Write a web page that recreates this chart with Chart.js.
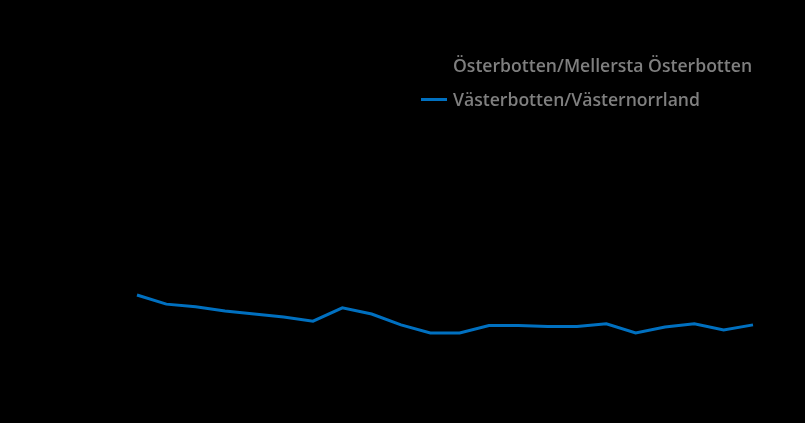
<!DOCTYPE html>
<html>
<head>
<meta charset="utf-8">
<script src="https://cdn.jsdelivr.net/npm/chart.js@4"></script>
<style>
  html, body { margin: 0; padding: 0; background: #000; }
  #wrap { position: relative; width: 805px; height: 423px; background: #000; }
  #legend { position: absolute; left: 421px; top: 48px; font-family: "Open Sans", sans-serif; font-weight: 600; font-size: 17.6px; color: #7f7f7f; }
  #legend div { display: flex; align-items: center; height: 34px; }
  #legend span.mark { display: inline-block; width: 26px; height: 3px; margin-right: 6px; }
</style>
</head>
<body>
<div id="wrap">
  <canvas id="chart"></canvas>
  <div id="legend"></div>
</div>
<script>
// years on the (black, unseen) category axis
const years = ['2000', '2001', '2002', '2003', '2004', '2005', '2006', '2007', '2008', '2009', '2010',
	'2011', '2012', '2013', '2014', '2015', '2016', '2017', '2018', '2019', '2020', '2021'];

// drawn in black on black, values cannot be read
const osterbotten = [];

const vasterbotten = [20.6, 17.9, 17.1, 15.9, 15.0, 14.1, 12.9, 16.8, 15.0, 11.8, 9.4,
	9.4, 11.6, 11.6, 11.3, 11.3, 12.1, 9.4, 11.2, 12.1, 10.3, 11.8];

const yTicks = [0, 20, 40, 60, 80, 100];

let element = document.getElementById('chart');

let chart = new Chart(element, {
	type: 'line',
	data: {
		labels: years,
		datasets: [
			{
				label: 'Österbotten/Mellersta Österbotten',
				data: osterbotten,
				borderColor: '#000000',
				borderWidth: 3,
				pointRadius: 0,
			},
			{
				label: 'Västerbotten/Västernorrland',
				data: vasterbotten,
				borderColor: '#0070c0',
				borderWidth: 3,
				pointRadius: 0,
				tension: 0,
			},
		],
	},
	options: {
		responsive: true,
		maintainAspectRatio: false,
		animation: false,
		layout: { padding: { left: 77, right: 52, top: 25, bottom: 28 } },
		plugins: {
			legend: { display: false },
			tooltip: { enabled: false },
		},
		scales: {
			x: {
				offset: false,
				grid: { display: false },
				border: { color: '#000' },
				ticks: { color: '#000', maxRotation: 0, autoSkip: false },
				afterFit: s => { s.height = 30; },
			},
			y: {
				min: 0,
				max: 100,
				afterBuildTicks: s => { s.ticks = yTicks.map(v => ({ value: v })); },
				grid: { display: false },
				border: { color: '#000' },
				ticks: { color: '#000' },
				afterFit: s => { s.width = 60; },
			},
		},
	},
});

// legend built from the chart's own datasets
let legend = document.getElementById('legend');
chart.data.datasets.forEach(ds => {
	let row = document.createElement('div');
	let mark = document.createElement('span');
	mark.className = 'mark';
	mark.style.background = ds.borderColor;
	row.appendChild(mark);
	row.appendChild(document.createTextNode(ds.label));
	legend.appendChild(row);
});
</script>
</body>
</html>
